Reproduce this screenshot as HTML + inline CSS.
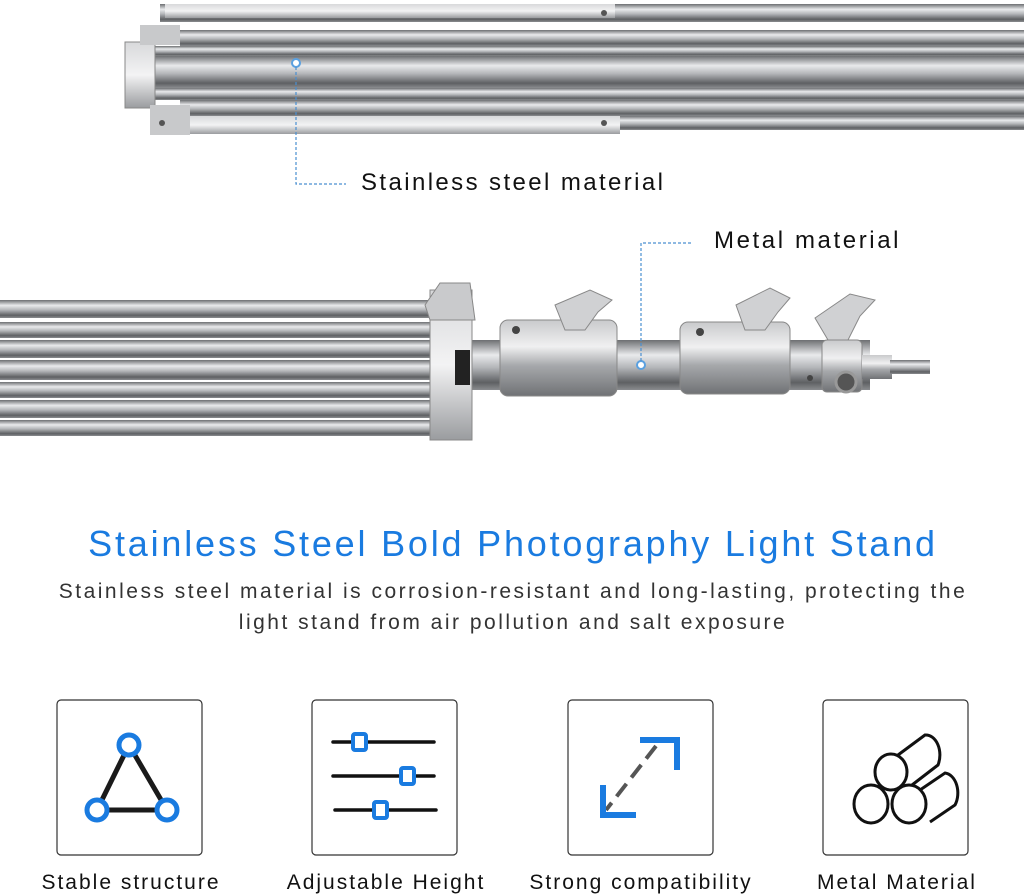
<!DOCTYPE html>
<html><head><meta charset="utf-8"><style>
html,body{margin:0;padding:0;background:#fff;}
svg{display:block}
</style></head><body>
<svg width="1024" height="896" viewBox="0 0 1024 896" xmlns="http://www.w3.org/2000/svg" font-family="Liberation Sans, sans-serif">
<defs>
<linearGradient id="rod" x1="0" y1="0" x2="0" y2="1">
<stop offset="0" stop-color="#6d6f72"/><stop offset="0.3" stop-color="#e9eaec"/><stop offset="0.55" stop-color="#b4b6b9"/><stop offset="0.85" stop-color="#5e6063"/><stop offset="1" stop-color="#8a8c8f"/></linearGradient>
<linearGradient id="bar" x1="0" y1="0" x2="0" y2="1">
<stop offset="0" stop-color="#d8d9db"/><stop offset="0.5" stop-color="#f3f3f4"/><stop offset="1" stop-color="#9a9c9f"/></linearGradient>
<linearGradient id="col" x1="0" y1="0" x2="0" y2="1">
<stop offset="0" stop-color="#c9cacc"/><stop offset="0.35" stop-color="#f0f0f1"/><stop offset="0.6" stop-color="#a6a8ab"/><stop offset="1" stop-color="#707275"/></linearGradient>
</defs>
<rect width="1024" height="896" fill="#fff"/>
<g>
<rect x="160" y="4" width="864" height="18" fill="url(#rod)"/>
<rect x="165" y="4" width="450" height="14" fill="url(#bar)"/>
<rect x="180" y="30" width="844" height="16" fill="url(#rod)"/>
<rect x="150" y="46" width="874" height="10" fill="url(#rod)"/>
<rect x="140" y="56" width="884" height="32" fill="url(#rod)"/>
<rect x="150" y="88" width="874" height="12" fill="url(#rod)"/>
<rect x="180" y="100" width="844" height="16" fill="url(#rod)"/>
<rect x="160" y="116" width="460" height="18" fill="url(#bar)"/>
<rect x="620" y="116" width="404" height="14" fill="url(#rod)"/>
<rect x="125" y="42" width="30" height="66" fill="url(#bar)" stroke="#888" stroke-width="1"/>
<rect x="140" y="25" width="40" height="20" fill="#c8c9cb"/>
<rect x="150" y="105" width="40" height="30" fill="#c8c9cb"/>
<circle cx="604" cy="13" r="3" fill="#555"/><circle cx="604" cy="123" r="3" fill="#555"/><circle cx="162" cy="123" r="3" fill="#555"/>
</g>
<circle cx="296" cy="63" r="4" fill="#fff" stroke="#5aa0e0" stroke-width="2"/>
<path d="M296 67 V184 H346" fill="none" stroke="#4a8fd0" stroke-width="1.2" stroke-dasharray="3,2"/>
<text x="361" y="190" font-size="24" letter-spacing="2.4" fill="#111">Stainless steel material</text>
<g>
<rect x="0" y="300" width="430" height="18" fill="url(#rod)"/>
<rect x="0" y="322" width="440" height="16" fill="url(#rod)"/>
<rect x="0" y="340" width="450" height="18" fill="url(#rod)"/>
<rect x="0" y="360" width="450" height="20" fill="url(#rod)"/>
<rect x="0" y="382" width="450" height="16" fill="url(#rod)"/>
<rect x="0" y="400" width="440" height="18" fill="url(#rod)"/>
<rect x="0" y="420" width="430" height="16" fill="url(#rod)"/>
<rect x="470" y="340" width="400" height="50" fill="url(#rod)"/>
<rect x="430" y="290" width="42" height="150" fill="url(#bar)" stroke="#888"/>
<rect x="455" y="350" width="15" height="35" fill="#222"/>
<path d="M425 305 L440 283 L470 283 L475 320 L430 320 Z" fill="#c9cacc" stroke="#888"/>
<rect x="500" y="320" width="117" height="76" rx="8" fill="url(#col)" stroke="#888"/>
<rect x="680" y="322" width="110" height="72" rx="8" fill="url(#col)" stroke="#888"/>
<rect x="822" y="340" width="40" height="52" rx="5" fill="url(#col)" stroke="#888"/>
<circle cx="846" cy="382" r="10" fill="#555" stroke="#999" stroke-width="3"/>
<rect x="862" y="355" width="30" height="24" fill="url(#col)"/>
<rect x="890" y="360" width="40" height="14" fill="url(#rod)"/>
<g fill="#d0d1d3" stroke="#888">
<path d="M555 305 L590 290 L612 300 L598 312 L585 330 L565 330 Z"/>
<path d="M736 305 L770 288 L790 298 L778 312 L765 330 L745 330 Z"/>
<path d="M815 318 L850 294 L875 300 L860 316 L848 340 L828 340 Z"/>
</g>
<circle cx="516" cy="330" r="4" fill="#444"/><circle cx="700" cy="332" r="4" fill="#444"/><circle cx="810" cy="378" r="3" fill="#444"/>
</g>
<circle cx="641" cy="365" r="4" fill="#fff" stroke="#5aa0e0" stroke-width="2"/>
<path d="M641 361 V243 H692" fill="none" stroke="#4a8fd0" stroke-width="1.2" stroke-dasharray="3,2"/>
<text x="714" y="248" font-size="24" letter-spacing="2.6" fill="#111">Metal material</text>
<text x="513" y="556" font-size="36" letter-spacing="2.8" fill="#1a7be0" text-anchor="middle">Stainless Steel Bold Photography Light Stand</text>
<text x="513" y="598" font-size="21" letter-spacing="2.5" fill="#333" text-anchor="middle">Stainless steel material is corrosion-resistant and long-lasting, protecting the</text>
<text x="513" y="629" font-size="21" letter-spacing="2.5" fill="#333" text-anchor="middle">light stand from air pollution and salt exposure</text>
<g fill="none" stroke="#333" stroke-width="1.2">
<rect x="57" y="700" width="145" height="155" rx="4"/>
<rect x="312" y="700" width="145" height="155" rx="4"/>
<rect x="568" y="700" width="145" height="155" rx="4"/>
<rect x="823" y="700" width="145" height="155" rx="4"/>
</g>
<g stroke-width="5">
<path d="M129 745 L97 810 L167 810 Z" fill="none" stroke="#1a1a1a"/>
<circle cx="129" cy="745" r="10" fill="#fff" stroke="#1a7be0"/>
<circle cx="97" cy="810" r="10" fill="#fff" stroke="#1a7be0"/>
<circle cx="167" cy="810" r="10" fill="#fff" stroke="#1a7be0"/>
</g>
<g stroke="#111" stroke-width="3.5" stroke-linecap="round">
<line x1="333" y1="742" x2="434" y2="742"/>
<line x1="333" y1="776" x2="434" y2="776"/>
<line x1="335" y1="810" x2="436" y2="810"/>
</g>
<g fill="#fff" stroke="#1a7be0" stroke-width="4">
<rect x="353" y="734" width="13" height="16" rx="2"/>
<rect x="401" y="768" width="13" height="16" rx="2"/>
<rect x="374" y="802" width="13" height="16" rx="2"/>
</g>
<line x1="656" y1="746" x2="606" y2="810" stroke="#555" stroke-width="4" stroke-dasharray="16,8"/>
<path d="M640 740 H677 V770" fill="none" stroke="#1a7be0" stroke-width="6"/>
<path d="M603 785 V815 H636" fill="none" stroke="#1a7be0" stroke-width="6"/>
<g fill="#fff" stroke="#111" stroke-width="3">
<path d="M898 755 L925 735 A14 20 0 0 1 938 765 L912 785"/>
<ellipse cx="891" cy="772" rx="16" ry="18"/>
<path d="M920 790 L945 773 A14 20 0 0 1 955 805 L930 822"/>
<ellipse cx="871" cy="804" rx="17" ry="19"/>
<ellipse cx="909" cy="804" rx="17" ry="19"/>
</g>
<g font-size="21" letter-spacing="2" fill="#111" text-anchor="middle">
<text x="131" y="889">Stable structure</text>
<text x="386" y="889">Adjustable Height</text>
<text x="641" y="889">Strong compatibility</text>
<text x="897" y="889">Metal Material</text>
</g>
</svg>
</body></html>
